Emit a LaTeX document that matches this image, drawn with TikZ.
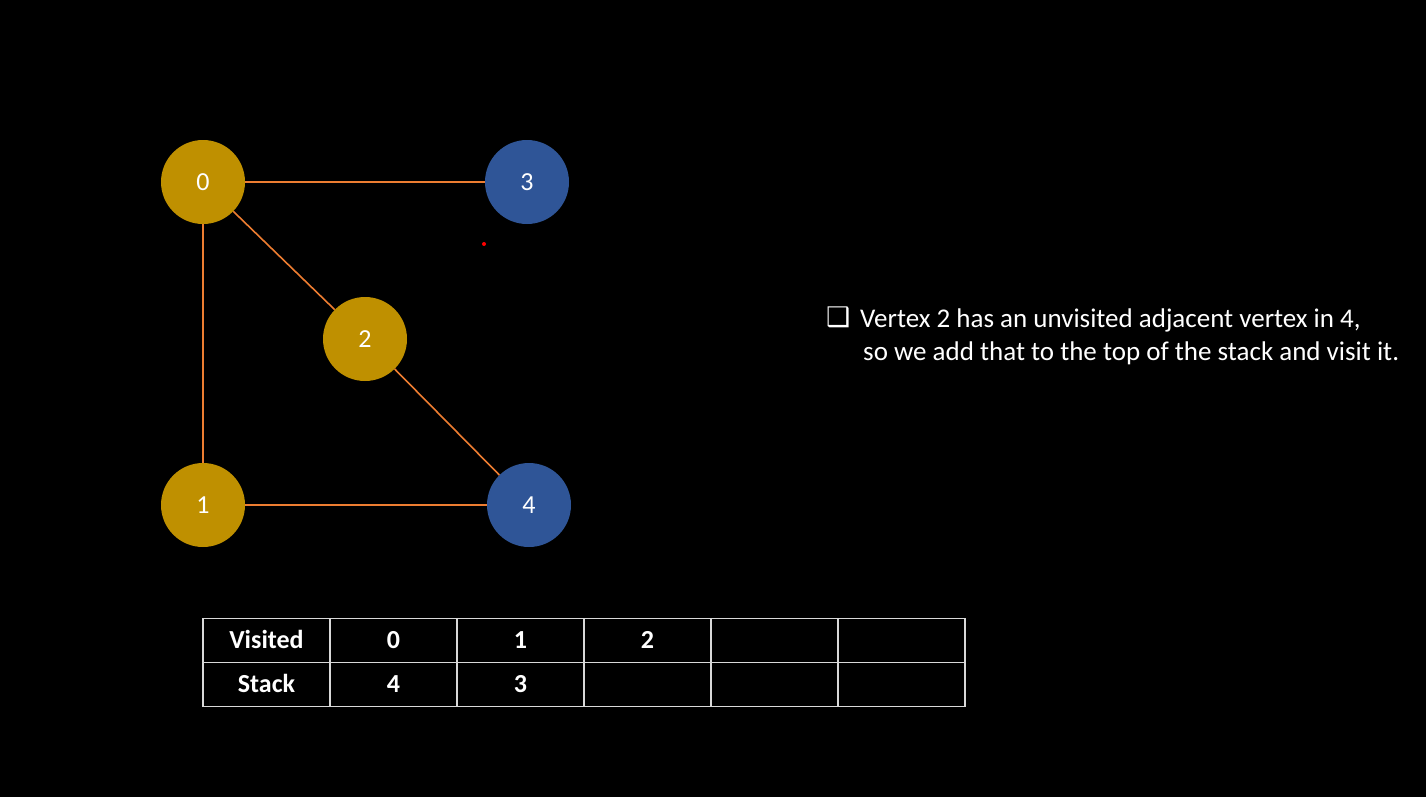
\documentclass[tikz,border=0pt]{standalone}
\usepackage{fontspec}
\setmainfont{Carlito}
\newfontfamily\symfont{DejaVu Sans}
\definecolor{gold}{HTML}{BF9000}
\definecolor{vblue}{HTML}{2F5597}
\definecolor{edgeor}{HTML}{ED7D31}
\definecolor{gridc}{HTML}{D9D9D9}
\begin{document}
\begin{tikzpicture}[x=1pt,y=-1pt,
  vert/.style={circle,minimum size=84pt,inner sep=0pt,text=white,font=\fontsize{26}{30}\selectfont,text height=16.5pt,text depth=0pt},
  visitedv/.style={vert,fill=gold},
  freshv/.style={vert,fill=vblue},
  edge/.style={draw=edgeor,line width=1.6pt},
  cell/.style={draw=gridc,line width=1.6pt,minimum width=127pt,minimum height=44pt,inner sep=0pt,text=white,font=\bfseries\fontsize{26}{30}\selectfont,text height=16.5pt,text depth=0pt},
  note/.style={text=white,anchor=base west,inner sep=0pt,font=\fontsize{27}{32}\selectfont}]
\fill[black] (0,0) rectangle (1426,797);
\useasboundingbox (0,0) rectangle (1426,797);
% vertices
\node[visitedv] (v0) at (203,182) {0};
\node[freshv] (v3) at (527,182) {3};
\node[visitedv] (v2) at (365,339) {2};
\node[visitedv] (v1) at (203,505) {1};
\node[freshv] (v4) at (529,505) {4};
% edges
\draw[edge] (v0) -- (v3);
\draw[edge] (v0) -- (v2);
\draw[edge] (v0) -- (v1);
\draw[edge] (v2) -- (v4);
\draw[edge] (v1) -- (v4);
% stray red dot
\fill[red] (484,244) circle (2pt);
% note
\node[note] (bul) at (826,326) {\symfont\fontsize{27}{30}\selectfont ❑};
\node[note] (l1) at (860,327) {Vertex 2 has an unvisited adjacent vertex in 4,};
\node[note] (l2) at (863,360) {so we add that to the top of the stack and visit it.};
% table
\node[cell] (r1c0) at (266.5,640.5) {Visited};
\node[cell] (r1c1) at (393.5,640.5) {0};
\node[cell] (r1c2) at (520.5,640.5) {1};
\node[cell] (r1c3) at (647.5,640.5) {2};
\node[cell] (r1c4) at (774.5,640.5) {};
\node[cell] (r1c5) at (901.5,640.5) {};
\node[cell] (r2c0) at (266.5,684.5) {Stack};
\node[cell] (r2c1) at (393.5,684.5) {4};
\node[cell] (r2c2) at (520.5,684.5) {3};
\node[cell] (r2c3) at (647.5,684.5) {};
\node[cell] (r2c4) at (774.5,684.5) {};
\node[cell] (r2c5) at (901.5,684.5) {};
\end{tikzpicture}
\end{document}
